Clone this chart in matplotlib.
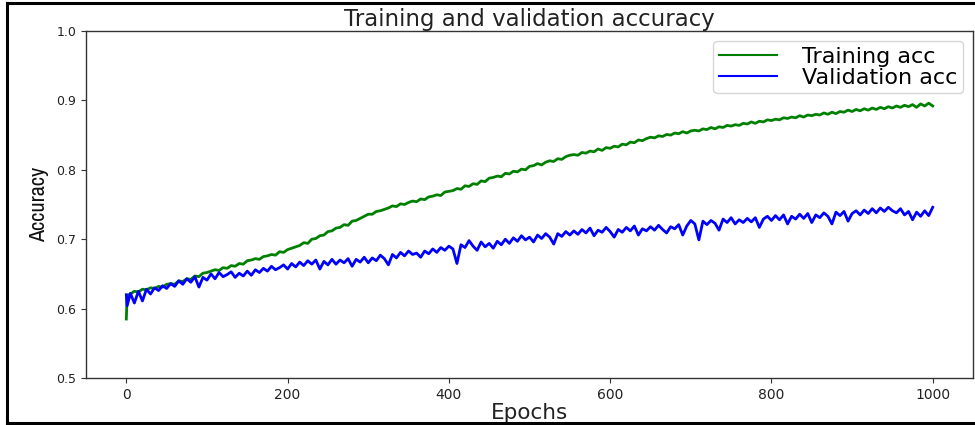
import matplotlib
matplotlib.use('Agg')
import matplotlib.pyplot as plt
import matplotlib.font_manager as fm
from matplotlib.lines import Line2D
import warnings

warnings.filterwarnings('ignore', category=UserWarning, module='matplotlib')

# epochs sampled from the plot (every 5 epochs, plus the first jump)
epochs = [0, 1] + list(range(5, 1001, 5))

train_acc = [
    0.585, 0.619,
    0.621, 0.625, 0.624, 0.628, 0.627, 0.630, 0.629, 0.632, 0.631, 0.635,
    0.636, 0.635, 0.640, 0.639, 0.643, 0.642, 0.647, 0.646, 0.651, 0.652,
    0.654, 0.656, 0.655, 0.659, 0.658, 0.662, 0.661, 0.665, 0.664, 0.669,
    0.670, 0.672, 0.671, 0.675, 0.676, 0.678, 0.677, 0.682, 0.681, 0.685,
    0.687, 0.689, 0.691, 0.695, 0.694, 0.700, 0.701, 0.705, 0.706, 0.711,
    0.712, 0.716, 0.717, 0.721, 0.720, 0.726, 0.727, 0.730, 0.733, 0.736,
    0.736, 0.740, 0.741, 0.743, 0.745, 0.748, 0.747, 0.751, 0.750, 0.753,
    0.755, 0.754, 0.758, 0.757, 0.761, 0.762, 0.764, 0.763, 0.768, 0.769,
    0.770, 0.773, 0.772, 0.777, 0.776, 0.780, 0.779, 0.784, 0.783, 0.788,
    0.789, 0.791, 0.790, 0.795, 0.794, 0.798, 0.797, 0.801, 0.800, 0.805,
    0.806, 0.809, 0.807, 0.811, 0.813, 0.812, 0.816, 0.815, 0.819, 0.821,
    0.822, 0.821, 0.825, 0.824, 0.827, 0.826, 0.830, 0.828, 0.832, 0.831,
    0.834, 0.833, 0.837, 0.836, 0.840, 0.839, 0.843, 0.842, 0.845, 0.847,
    0.846, 0.849, 0.848, 0.851, 0.850, 0.853, 0.852, 0.855, 0.853, 0.856,
    0.857, 0.856, 0.859, 0.858, 0.861, 0.859, 0.862, 0.861, 0.864, 0.863,
    0.865, 0.864, 0.867, 0.866, 0.869, 0.867, 0.870, 0.869, 0.872, 0.871,
    0.873, 0.872, 0.875, 0.874, 0.876, 0.875, 0.878, 0.876, 0.879, 0.878,
    0.880, 0.879, 0.882, 0.880, 0.883, 0.881, 0.884, 0.883, 0.886, 0.884,
    0.887, 0.885, 0.888, 0.886, 0.889, 0.887, 0.890, 0.888, 0.891, 0.889,
    0.892, 0.890, 0.893, 0.891, 0.894, 0.890, 0.895, 0.892, 0.896, 0.892,
]

val_acc = [
    0.620, 0.604,
    0.622, 0.608, 0.625, 0.611, 0.628, 0.621, 0.630, 0.626, 0.633, 0.629,
    0.636, 0.632, 0.640, 0.635, 0.643, 0.638, 0.646, 0.631, 0.645, 0.641,
    0.650, 0.643, 0.652, 0.646, 0.649, 0.653, 0.645, 0.651, 0.647, 0.654,
    0.648, 0.656, 0.652, 0.658, 0.654, 0.661, 0.656, 0.659, 0.663, 0.657,
    0.665, 0.660, 0.667, 0.662, 0.669, 0.664, 0.670, 0.657, 0.668, 0.663,
    0.671, 0.664, 0.670, 0.666, 0.672, 0.661, 0.671, 0.667, 0.674, 0.666,
    0.673, 0.669, 0.677, 0.672, 0.663, 0.678, 0.673, 0.681, 0.676, 0.683,
    0.678, 0.680, 0.674, 0.683, 0.679, 0.686, 0.681, 0.688, 0.684, 0.690,
    0.686, 0.665, 0.692, 0.688, 0.698, 0.690, 0.684, 0.696, 0.689, 0.694,
    0.687, 0.697, 0.692, 0.700, 0.694, 0.702, 0.697, 0.705, 0.699, 0.703,
    0.696, 0.706, 0.701, 0.708, 0.703, 0.693, 0.708, 0.704, 0.711, 0.706,
    0.712, 0.707, 0.714, 0.709, 0.716, 0.705, 0.713, 0.710, 0.717, 0.711,
    0.703, 0.714, 0.710, 0.717, 0.712, 0.719, 0.706, 0.715, 0.712, 0.718,
    0.713, 0.720, 0.714, 0.709, 0.718, 0.715, 0.721, 0.706, 0.719, 0.727,
    0.722, 0.699, 0.726, 0.721, 0.727, 0.723, 0.713, 0.729, 0.724, 0.731,
    0.722, 0.728, 0.724, 0.730, 0.725, 0.731, 0.717, 0.729, 0.733, 0.727,
    0.734, 0.728, 0.735, 0.722, 0.733, 0.729, 0.736, 0.730, 0.737, 0.724,
    0.735, 0.731, 0.738, 0.733, 0.722, 0.739, 0.734, 0.740, 0.726, 0.737,
    0.741, 0.735, 0.742, 0.737, 0.744, 0.738, 0.745, 0.740, 0.746, 0.741,
    0.738, 0.744, 0.735, 0.740, 0.728, 0.739, 0.733, 0.741, 0.734, 0.746,
]

y_ticks = [0.5, 0.6, 0.7, 0.8, 0.9, 1.0]
x_ticks = [0, 200, 400, 600, 800, 1000]

# the y label in the picture uses a narrow face; pick one if installed
narrow = sorted(set(f.name for f in fm.fontManager.ttflist
                    if 'Narrow' in f.name or 'Condensed' in f.name))
cond = sorted(set(f.name for f in fm.fontManager.ttflist
                  if 'condensed' in str(f.stretch)))
ylab_kw = dict(family=['DejaVu Sans'])
if narrow:
    ylab_kw = dict(family=[narrow[0], 'DejaVu Sans'])
elif cond:
    ylab_kw = dict(family=[cond[0], 'DejaVu Sans'], fontstretch='condensed')

fig = plt.figure(figsize=(9.75, 4.25), dpi=100)
ax = fig.add_axes([0.0882, 0.1106, 0.9098, 0.8164])

ax.plot(epochs, train_acc, color='green', linewidth=2.0, label='Training acc')
ax.plot(epochs, val_acc, color='blue', linewidth=2.0, label='Validation acc')

ax.set_xlim(-50, 1050)
ax.set_ylim(0.5, 1.0)
ax.set_yticks(y_ticks)
ax.set_xticks(x_ticks)
ax.tick_params(axis='y', labelsize=9, colors='#333333', labelcolor='#222222')
ax.tick_params(axis='x', labelsize=10, colors='#333333', labelcolor='#222222')
for s in ax.spines.values():
    s.set_color('#333333')
    s.set_linewidth(1.0)

ax.set_title('Training and validation accuracy', fontsize=16.5, color='#222222', pad=3)
ax.set_xlabel('Epochs', fontsize=15.5, color='#222222', labelpad=1)
ax.set_ylabel('Accuracy', fontsize=16, color='#111111', labelpad=5, **ylab_kw)

leg = ax.legend(loc='upper right', fontsize=16, handlelength=2.6, borderaxespad=0.45,
                labelspacing=0.05, handletextpad=1.15, borderpad=0.25)
for h in leg.get_lines():
    h.set_linewidth(1.5)

# black screenshot frame around the figure
fl = dict(color='black', linewidth=2.2, transform=fig.transFigure)
fig.add_artist(Line2D([7 / 975, 7 / 975], [1 - 3 / 425, 1 - 423 / 425], **fl))
fig.add_artist(Line2D([7 / 975, 1.0], [1 - 3 / 425, 1 - 3 / 425], **fl))
fig.add_artist(Line2D([7 / 975, 1.0], [1 - 423 / 425, 1 - 423 / 425], **fl))

fig.savefig('out.png', dpi=100, facecolor='white')
